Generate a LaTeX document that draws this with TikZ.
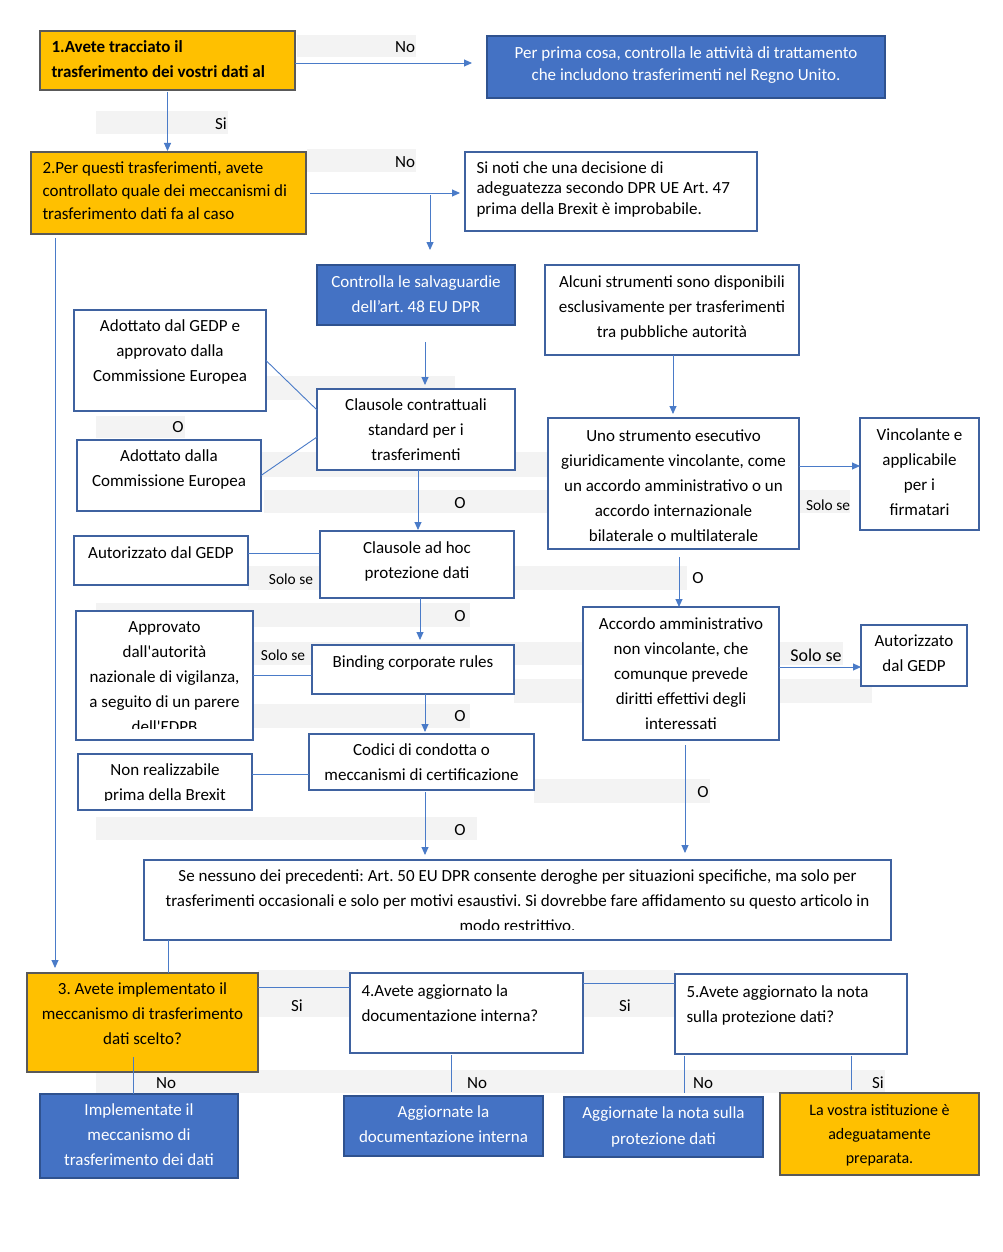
\documentclass[tikz,border=0pt]{standalone}
\usepackage{fontspec}
\setmainfont{Carlito}
\frenchspacing
\usetikzlibrary{arrows.meta,calc}
\definecolor{orng}{HTML}{FFC000}
\definecolor{bfill}{HTML}{4472C4}
\definecolor{bdark}{HTML}{2F528F}
\definecolor{wbord}{HTML}{3F62A0}
\definecolor{obord}{HTML}{595959}
\definecolor{conn}{HTML}{4A7BC8}
\definecolor{bandc}{HTML}{F3F3F3}
% #1 width, #2 height, #3 top pad, #4 alignment, #5 text
\newcommand\bx[5]{\parbox[c][#2pt][t]{#1pt}{#4\vspace*{#3pt}\strut#5\par}}
\newcommand\lft{\raggedright\leftskip=11.5pt\relax}
\tikzset{
 base/.style={inner sep=0pt, outer sep=0pt, anchor=north west, line width=1.2pt, font=\fontsize{17}{25}\selectfont},
 wbox/.style={base, draw=wbord, fill=white},
 obox/.style={base, draw=obord, fill=orng},
 bbox/.style={base, draw=bdark, fill=bfill, text=white},
 arr/.style={draw=conn, line width=0.9pt, -{Triangle[length=8pt,width=7pt]}},
 ln/.style={draw=conn, line width=0.9pt},
 lbl/.style={inner sep=0pt, font=\fontsize{17}{20}\selectfont},
 sml/.style={inner sep=0pt, font=\fontsize{15.4}{18}\selectfont},
 band/.style={fill=bandc}
}
\begin{document}
\begin{tikzpicture}[x=1pt,y=-1pt]
\fill[white] (0,0) rectangle (1002,1252);
\useasboundingbox (0,0) rectangle (1002,1252);
% background bands
\fill[band] (297,35) rectangle (416,57);
\fill[band] (96,111) rectangle (228,134);
\fill[band] (307,149) rectangle (416,172);
\fill[band] (250,376) rectangle (455,400);
\fill[band] (96,416) rectangle (185,438);
\fill[band] (261,452) rectangle (548,477);
\fill[band] (264,490) rectangle (850,513);
\fill[band] (248,566) rectangle (687,590);
\fill[band] (96,603) rectangle (470,627);
\fill[band] (253,642) rectangle (843,665);
\fill[band] (514,679) rectangle (872,703);
\fill[band] (96,704) rectangle (470,728);
\fill[band] (534,779) rectangle (710,803);
\fill[band] (96,817) rectangle (477,840);
\fill[band] (258,970) rectangle (350,1017);
\fill[band] (583,970) rectangle (675,1017);
\fill[band] (96,1070) rectangle (885,1093);

% boxes
\node[obox] (b1) at (40,31) {\bx{255}{59}{4}{\lft\bfseries}{1.Avete tracciato il\\trasferimento dei vostri dati al}};
\node[bbox,font=\fontsize{17}{22}\selectfont] (bA) at (487,36) {\bx{398}{62}{7}{\centering}{Per prima cosa, controlla le attività di trattamento\\che includono trasferimenti nel Regno Unito.}};
\node[obox,font=\fontsize{17}{23}\selectfont] (b2) at (31,152) {\bx{275}{82}{5.4}{\lft}{2.Per questi trasferimenti, avete\\controllato quale dei meccanismi di\\trasferimento dati fa al caso}};
\node[wbox,font=\fontsize{17}{20.5}\selectfont] (bB) at (465,152) {\bx{292}{79}{7}{\lft}{Si noti che una decisione di\\adeguatezza secondo DPR UE Art. 47\\prima della Brexit è improbabile.}};
\node[bbox] (bC) at (317,265) {\bx{198}{60}{5}{\centering}{Controlla le salvaguardie\\dell’art. 48 EU DPR}};
\node[wbox] (ad1) at (74,310) {\bx{192}{101}{4}{\centering}{Adottato dal GEDP e\\approvato dalla\\Commissione Europea}};
\node[wbox] (ad2) at (77,440) {\bx{184}{71}{4}{\centering}{Adottato dalla\\Commissione Europea}};
\node[wbox] (cl) at (317,389) {\bx{198}{81}{4}{\centering}{Clausole contrattuali\\standard per i\\trasferimenti}};
\node[wbox] (adh) at (320,531) {\bx{194}{67}{5}{\centering}{Clausole ad hoc\\protezione dati}};
\node[wbox] (aut1) at (74,536) {\bx{174}{49}{5}{\centering}{Autorizzato dal GEDP}};
\node[wbox] (bcr) at (312,645) {\bx{202}{49}{5}{\centering}{Binding corporate rules}};
\fill[white] (76,611) rectangle (253,740);
\begin{scope}
\clip (76,611) rectangle (253,728);
\node[wbox,draw=none] (appr) at (76,611) {\bx{177}{129}{4}{\centering}{Approvato\\dall\textquotesingle autorità\\nazionale di vigilanza,\\a seguito di un parere\\dell\textquotesingle EDPB}};
\end{scope}
\draw[wbord,line width=1.2pt] (appr.south west) rectangle (appr.north east);
\node[wbox] (cod) at (309,734) {\bx{225}{56}{4}{\centering}{Codici di condotta o\\meccanismi di certificazione}};
\fill[white] (78,754) rectangle (252,810);
\begin{scope}
\clip (78,754) rectangle (252,800);
\node[wbox,draw=none] (nonr) at (78,754) {\bx{174}{56}{4}{\centering}{Non realizzabile\\prima della Brexit}};
\end{scope}
\draw[wbord,line width=1.2pt] (nonr.south west) rectangle (nonr.north east);
\node[wbox] (alc) at (545,265) {\bx{254}{90}{5}{\centering}{Alcuni strumenti sono disponibili\\esclusivamente per trasferimenti\\tra pubbliche autorità}};
\node[wbox] (uno) at (548,418) {\bx{251}{131}{6}{\centering}{Uno strumento esecutivo\\giuridicamente vincolante, come\\un accordo amministrativo o un\\accordo internazionale\\bilaterale o multilaterale}};
\node[wbox] (vin) at (860,418) {\bx{119}{112}{5}{\centering}{Vincolante e\\applicabile\\per i\\firmatari}};
\node[wbox] (acc) at (583,607) {\bx{196}{133}{5}{\centering}{Accordo amministrativo\\non vincolante, che\\comunque prevede\\diritti effettivi degli\\interessati}};
\node[wbox] (aut2) at (861,625) {\bx{106}{61}{4}{\centering}{Autorizzato\\dal GEDP}};
\fill[white] (144,860) rectangle (891,940);
\begin{scope}
\clip (144,860) rectangle (891,929);
\node[wbox,draw=none] (big) at (144,860) {\bx{747}{80}{4}{\centering}{Se nessuno dei precedenti: Art. 50 EU DPR consente deroghe per situazioni specifiche, ma solo per\\trasferimenti occasionali e solo per motivi esaustivi. Si dovrebbe fare affidamento su questo articolo in\\modo restrittivo.}};
\end{scope}
\draw[wbord,line width=1.2pt] (big.south west) rectangle (big.north east);
\node[obox] (b3) at (27,973) {\bx{231}{99}{4}{\centering}{3. Avete implementato il\\meccanismo di trasferimento\\dati scelto?}};
\node[wbox] (b4) at (350,973) {\bx{233}{80}{6}{\lft}{4.Avete aggiornato la\\documentazione interna?}};
\node[wbox] (b5) at (675,974) {\bx{232}{80}{6}{\lft}{5.Avete aggiornato la nota\\sulla protezione dati?}};
\node[bbox] (imp) at (40,1094) {\bx{198}{84}{4}{\centering}{Implementate il\\meccanismo di\\trasferimento dei dati}};
\node[bbox] (agg1) at (344,1096) {\bx{199}{60}{4}{\centering}{Aggiornate la\\documentazione interna}};
\node[bbox,font=\fontsize{17}{26}\selectfont] (agg2) at (564,1097) {\bx{199}{60}{3.3}{\centering}{Aggiornate la nota sulla\\protezione dati}};
\node[obox,font=\fontsize{16}{24}\selectfont] (fin) at (780,1093) {\bx{199}{82}{5.2}{\centering}{La vostra istituzione è\\adeguatamente\\preparata.}};

% connectors
\draw[arr,shorten >=15pt] ([yshift=-2.5pt]b1.east) -- ([yshift=-2.5pt]b1.east -| bA.west);
\draw[arr,shorten <=2pt,shorten >=1pt] (b1.south) -- (b1.south |- b2.north);
\draw[arr,shorten <=4pt,shorten >=5pt] (b2.east) -- (b2.east -| bB.west);
\coordinate (j1) at ($(b2.east)!0.78!(b2.east -| bB.west)$);
\draw[arr,shorten <=2pt,shorten >=15pt] (j1) -- (j1 |- bC.north);
\draw[arr,shorten <=4pt,shorten >=5pt] ([xshift=24pt]b2.south west) -- ([xshift=24pt]b2.south west |- b3.north);
\draw[arr,shorten <=17pt,shorten >=4pt] ([xshift=9pt]bC.south) -- ([xshift=9pt]bC.south |- cl.north);
\draw[ln] (ad1.east) -- ([yshift=19.5pt]cl.west);
\draw[ln] (ad2.east) -- ([yshift=-7.5pt]cl.west);
\draw[arr,shorten >=1pt] ([xshift=2pt]cl.south) -- ([xshift=2pt]cl.south |- adh.north);
\draw[ln] ([yshift=7.5pt]aut1.east) -- ([yshift=7.5pt]aut1.east -| adh.west);
\draw[arr,shorten >=5pt] ([xshift=3pt]adh.south) -- ([xshift=3pt]adh.south |- bcr.north);
\draw[ln] (appr.east) -- (appr.east -| bcr.west);
\draw[arr,shorten >=2pt] ([xshift=12pt]bcr.south) -- ([xshift=12pt]bcr.south |- cod.north);
\draw[ln] ([yshift=8pt]nonr.east) -- ([yshift=8pt]nonr.east -| cod.west);
\draw[arr,shorten <=2pt,shorten >=5pt] ([xshift=3.5pt]cod.south) -- ([xshift=3.5pt]cod.south |- big.north);
\draw[arr,shorten >=4pt] ([xshift=1pt]alc.south) -- ([xshift=1pt]alc.south |- uno.north);
\draw[arr] ([yshift=17.5pt]uno.east) -- ([yshift=17.5pt]uno.east -| vin.west);
\draw[arr,shorten <=8pt] ([xshift=5.5pt]uno.south) -- ([xshift=5.5pt]uno.south |- acc.north);
\draw[arr] ([yshift=6.5pt]acc.east) -- ([yshift=6.5pt]acc.east -| aut2.west);
\draw[arr,shorten <=5pt,shorten >=7pt] ([xshift=4pt]acc.south) -- ([xshift=4pt]acc.south |- big.north);
\draw[ln] ([xshift=24pt]big.south west) -- ([xshift=24pt]big.south west |- b3.north);
\draw[ln] ([yshift=-14pt]b3.north east) -- ([yshift=-14pt]b3.north east -| b4.west);
\draw[ln] ([yshift=-10pt]b4.north east) -- ([yshift=-10pt]b4.north east -| b5.west);
\draw[ln] ([xshift=106pt,yshift=15pt]b3.south west) -- ([xshift=106pt]b3.south west |- imp.north);
\draw[ln,shorten <=2pt,shorten >=4pt] ([xshift=101pt]b4.south west) -- ([xshift=101pt]b4.south west |- agg1.north);
\draw[ln,shorten <=2pt,shorten >=4pt] ([xshift=9pt]b5.south west) -- ([xshift=9pt]b5.south west |- agg2.north);
\draw[ln,shorten <=2pt,shorten >=3pt] ([xshift=176pt]b5.south west) -- ([xshift=176pt]b5.south west |- fin.north);

% labels
\node[lbl] (n1) at (405,47) {No};
\node[lbl] (s1) at (221,124) {Si};
\node[lbl] (n2) at (405,162) {No};
\node[lbl] (o1) at (178,427) {O};
\node[lbl] (o2) at (460,503) {O};
\node[sml] (ss1) at (291,579) {Solo se};
\node[lbl] (o3) at (460,616) {O};
\node[sml] (ss2) at (283,655) {Solo se};
\node[lbl] (o4) at (460,716) {O};
\node[lbl] (o5) at (460,830) {O};
\node[sml] (ss3) at (828,505) {Solo se};
\node[lbl] (o6) at (698,578) {O};
\node[lbl,font=\fontsize{18}{21}\selectfont] (ss4) at (816,655) {Solo se};
\node[lbl] (o7) at (703,792) {O};
\node[lbl] (s2) at (297,1006) {Si};
\node[lbl] (s3) at (625,1006) {Si};
\node[lbl] (n3) at (166,1083) {No};
\node[lbl] (n4) at (477,1083) {No};
\node[lbl] (n5) at (703,1083) {No};
\node[lbl] (s4) at (878,1083) {Si};
\end{tikzpicture}
\end{document}
